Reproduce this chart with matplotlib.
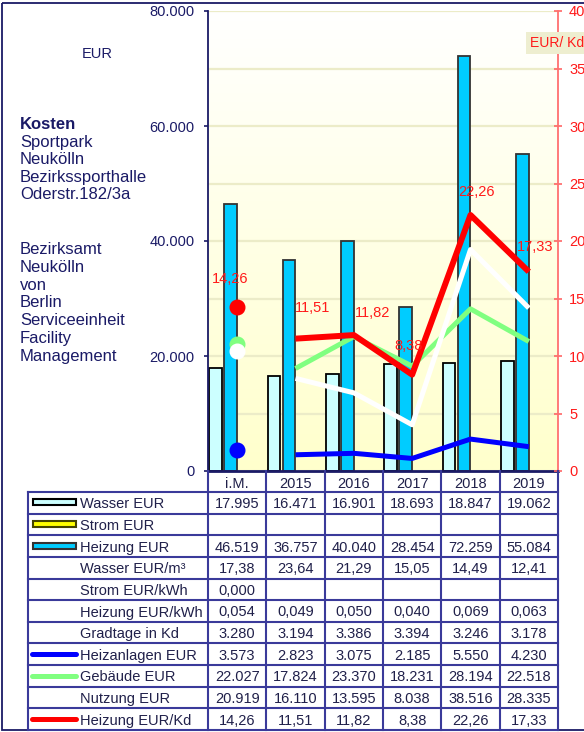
import numpy as np
import matplotlib
matplotlib.use("Agg")
import matplotlib.pyplot as plt
from matplotlib.colors import LinearSegmentedColormap
from matplotlib.patches import Rectangle
from matplotlib.transforms import blended_transform_factory

plt.rcParams['font.family'] = ['Liberation Sans', 'DejaVu Sans']

# data
categories = ['i.M.', '2015', '2016', '2017', '2018', '2019']
wasser_eur = [17995, 16471, 16901, 18693, 18847, 19062]
strom_eur = [np.nan] * 6
heizung_eur = [46519, 36757, 40040, 28454, 72259, 55084]
wasser_eur_m3 = [17.38, 23.64, 21.29, 15.05, 14.49, 12.41]
strom_eur_kwh = [0.0, None, None, None, None, None]
heizung_eur_kwh = [0.054, 0.049, 0.050, 0.040, 0.069, 0.063]
gradtage_kd = [3280, 3194, 3386, 3394, 3246, 3178]
heizanlagen_eur = [3573, 2823, 3075, 2185, 5550, 4230]
gebaeude_eur = [22027, 17824, 23370, 18231, 28194, 22518]
nutzung_eur = [20919, 16110, 13595, 8038, 38516, 28335]
heizung_eur_kd = [14.26, 11.51, 11.82, 8.38, 22.26, 17.33]

# label offsets (pixels) for the red data labels
label_off = [(-7, 28), (17, 31), (19, 22), (-4, 29), (6, 23), (6, 25)]

navy = '#1a1a66'
border = '#3a3a9a'
txt = '#20204a'
red = '#ff1a1a'


def de_int(v):
    if v is None:
        return ''
    return f'{v:,.0f}'.replace(',', '.')


def de_dec(v, n):
    if v is None:
        return ''
    return f'{v:.{n}f}'.replace('.', ',')


W, H = 584, 732
fig = plt.figure(figsize=(W / 100, H / 100), dpi=100)

# plot area in pixels: x 208..558, y 11..471
ax = fig.add_axes([208 / W, 1 - 471 / H, 350 / W, 460 / H])
x = np.arange(len(categories))

grad = LinearSegmentedColormap.from_list('bg', ['#ffffcc', '#ffffff'])
ax.imshow(np.linspace(0, 1, 256).reshape(-1, 1), cmap=grad, origin='lower',
          extent=[-0.5, 5.5, 0, 80000], aspect='auto', zorder=0)

ax.set_xlim(-0.5, 5.5)
ax.set_ylim(0, 80000)
ax.set_yticks(range(0, 80001, 20000))
ax.set_yticks(range(0, 80001, 10000), minor=True)
ax.set_yticklabels([de_int(v) for v in range(0, 80001, 20000)])
ax.yaxis.grid(True, which='both', color='#ececc8', lw=1.6)
ax.set_axisbelow(True)
ax.tick_params(axis='y', which='major', colors=navy, labelsize=10.5,
               length=3, width=1.2, pad=6.5)
ax.tick_params(axis='y', which='minor', length=0)
ax.set_xticks(x)
ax.set_xticklabels(categories)
ax.tick_params(axis='x', length=0, pad=4, labelsize=10.5, colors=txt)
for s in ['top', 'right']:
    ax.spines[s].set_visible(False)
ax.spines['left'].set_color(navy)
ax.spines['left'].set_linewidth(1.3)
ax.spines['bottom'].set_color(navy)
ax.spines['bottom'].set_linewidth(2)

bw = 0.22
ax.bar(x - 0.37, wasser_eur, bw, color='#ccffff', edgecolor='black', lw=1.3, zorder=2)
ax.bar(x - 0.24, strom_eur, bw, color='#ffff00', edgecolor='#333300', lw=1.3, zorder=2)
ax.bar(x - 0.11, heizung_eur, bw, color='#00ccff', edgecolor='#333333', lw=1.3, zorder=2)

# lines from 2015 on, i.M. as single dots
ax.plot(x[1:], gebaeude_eur[1:], color='#80ff80', lw=3.6, zorder=3, solid_capstyle='butt')
ax.plot(x[1:], nutzung_eur[1:], color='white', lw=3.6, zorder=3, solid_capstyle='butt')
ax.plot(x[1:], heizanlagen_eur[1:], color='#0000ff', lw=3.6, zorder=3, solid_capstyle='butt')
ax.plot(x[0], gebaeude_eur[0], 'o', color='#80ff80', ms=10.5, zorder=4)
ax.plot(x[0], nutzung_eur[0], 'o', color='white', ms=10.5, zorder=4)
ax.plot(x[0], heizanlagen_eur[0], 'o', color='#0000ff', ms=10.5, zorder=4)

ax2 = ax.twinx()
ax2.set_ylim(0, 40)
ax2.set_yticks(range(0, 41, 5))
ax2.tick_params(axis='y', colors=red, labelsize=10.5, length=6, width=1.2,
                direction='inout', pad=5)
ax2.tick_params(axis='y', color='#ff6666')
for s in ['top', 'left', 'bottom']:
    ax2.spines[s].set_visible(False)
ax2.spines['right'].set_color('#ff7070')
ax2.spines['right'].set_linewidth(1.3)
ax2.plot(x[1:], heizung_eur_kd[1:], color='#ff0000', lw=4.3, zorder=3, solid_capstyle='butt')
ax2.plot(x[0], heizung_eur_kd[0], 'o', color='#ff0000', ms=10.5, zorder=4)
for xi, v, off in zip(x, heizung_eur_kd, label_off):
    ax2.annotate(de_dec(v, 2), (xi, v), xytext=off, textcoords='offset pixels',
                 ha='center', va='center', color=red, fontsize=10.5)

# overlay in pixel coordinates for texts, table and frame
ov = fig.add_axes([0, 0, 1, 1])
ov.set_xlim(0, W)
ov.set_ylim(H, 0)
ov.axis('off')
ov.patch.set_visible(False)
ov.set_zorder(5)

ov.add_patch(Rectangle((2, 3), W + 10, 727, fill=False, edgecolor=navy, lw=1.3))

ov.text(97, 58, 'EUR', ha='center', va='baseline', color=navy, fontsize=10.5)
ov.text(20, 129, 'Kosten', va='baseline', color=navy, fontsize=12, fontweight='bold')
for i, line in enumerate(['Sportpark', 'Neukölln', 'Bezirkssporthalle', 'Oderstr.182/3a']):
    ov.text(20, 146.6 + 17.6 * i, line, va='baseline', color=navy, fontsize=12)
for i, line in enumerate(['Bezirksamt', 'Neukölln', 'von', 'Berlin', 'Serviceeinheit',
                          'Facility', 'Management']):
    ov.text(20, 254 + 17.8 * i, line, va='baseline', color=navy, fontsize=12)

ov.text(530, 43, 'EUR/ Kd', va='center', color=red, fontsize=10,
        bbox=dict(boxstyle='square,pad=0.3', facecolor='#eeeed0', edgecolor='none'))

# table
rows = [
    ('Wasser EUR', [de_int(v) for v in wasser_eur], ('box', '#ccffff', 'black')),
    ('Strom EUR', ['' for v in strom_eur], ('box', '#ffff00', '#444400')),
    ('Heizung EUR', [de_int(v) for v in heizung_eur], ('box', '#00ccff', '#333333')),
    ('Wasser EUR/m³', [de_dec(v, 2) for v in wasser_eur_m3], None),
    ('Strom EUR/kWh', [de_dec(v, 3) for v in strom_eur_kwh], None),
    ('Heizung EUR/kWh', [de_dec(v, 3) for v in heizung_eur_kwh], None),
    ('Gradtage in Kd', [de_int(v) for v in gradtage_kd], None),
    ('Heizanlagen EUR', [de_int(v) for v in heizanlagen_eur], ('line', '#0000ff')),
    ('Gebäude EUR', [de_int(v) for v in gebaeude_eur], ('line', '#80ff80')),
    ('Nutzung EUR', [de_int(v) for v in nutzung_eur], None),
    ('Heizung EUR/Kd', [de_dec(v, 2) for v in heizung_eur_kd], ('line', '#ff0000')),
]
top, rh = 492, (730 - 492) / len(rows)
tr = blended_transform_factory(ax.transData, ov.transData)

for k in range(len(rows) + 1):
    ov.plot([28, 558], [top + k * rh] * 2, color=border, lw=1.5)
ov.plot([28, 28], [top, 730], color=border, lw=1.5)
for b in np.arange(-0.5, 6, 1.0):
    ov.plot([b, b], [471, 730], color=border, lw=1.5, transform=tr)

for k, (name, vals, leg) in enumerate(rows):
    yc = top + (k + 0.5) * rh
    ov.text(80, yc, name, va='center_baseline', color=txt, fontsize=10.5)
    for xi, s in zip(x, vals):
        ov.text(xi, yc, s, ha='center', va='center_baseline', color=txt,
                fontsize=10.5, transform=tr)
    if leg is None:
        continue
    if leg[0] == 'box':
        ov.add_patch(Rectangle((33, yc - 3.5), 43, 6, facecolor=leg[1],
                               edgecolor=leg[2], lw=1.5))
    else:
        ov.plot([32, 76], [yc, yc], color=leg[1], lw=3.6, solid_capstyle='round')

fig.savefig('out.png', dpi=100)
